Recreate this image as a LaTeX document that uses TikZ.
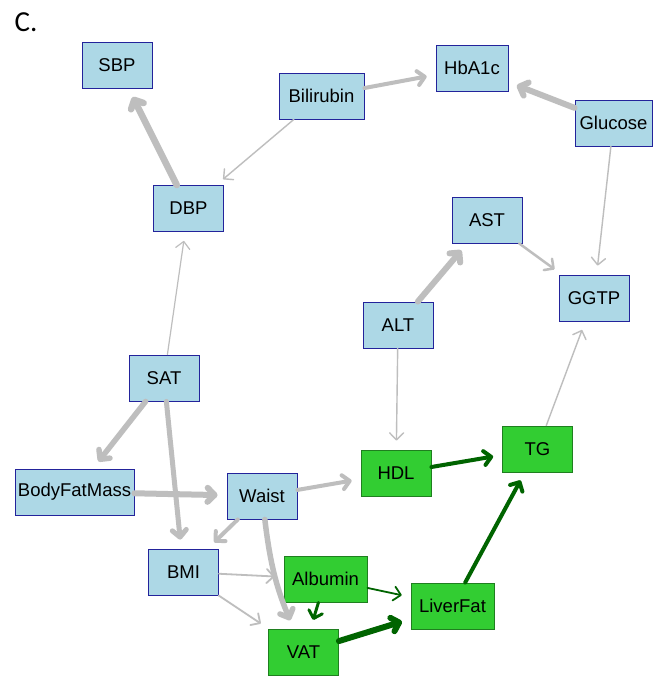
\documentclass[tikz,border=0pt]{standalone}
\usepackage{fontspec}
\setmainfont{Liberation Sans}
\newfontfamily\labelfont{Carlito}
\usetikzlibrary{arrows.meta}

\definecolor{boxfill}{HTML}{ADD8E6}
\definecolor{boxline}{HTML}{23239B}
\definecolor{gfill}{HTML}{32CD32}
\definecolor{gline}{HTML}{1F7F1F}
\definecolor{linkgray}{HTML}{BEBEBE}
\definecolor{linkgreen}{HTML}{006400}

\tikzset{
  box/.style={draw=boxline,fill=boxfill,line width=0.9pt,minimum height=46pt,
    minimum width=70pt,inner sep=0pt,font=\fontsize{18.5}{22}\selectfont},
  gbox/.style={box,draw=gline,fill=gfill},
  link/.style={draw=linkgray,line cap=round,shorten >=9pt,
    -{Straight Barb[length=7pt,width=14pt,round]}},
  glink/.style={link,draw=linkgreen}
}

\begin{document}
\begin{tikzpicture}[x=1pt,y=-1pt]
\useasboundingbox[fill=white] (0,0) rectangle (659,677);

\node[font=\labelfont\fontsize{29}{32}\selectfont] (panel) at (26,22) {C.};

% top
\node[box] (sbp) at (117,65.5) {SBP};
\node[box,minimum width=72pt] (hba) at (472,68) {HbA1c};
\node[box,minimum width=85pt] (bili) at (321.5,96) {Bilirubin};
\node[box,minimum width=77pt] (gluc) at (613.5,123) {Glucose};
\node[box] (dbp) at (188.5,208.5) {DBP};
\node[box] (ast) at (487,220) {AST};
\node[box] (ggtp) at (594,298) {GGTP};
\node[box] (alt) at (398,325) {ALT};

% bottom
\node[box] (sat) at (164,378) {SAT};
\node[box,minimum width=119pt] (bfm) at (74.5,492) {BodyFatMass};
\node[box] (waist) at (262,496) {Waist};
\node[box] (bmi) at (183.5,572) {BMI};
\node[gbox] (hdl) at (396,473) {HDL};
\node[gbox] (tg) at (537.5,449) {TG};
\node[gbox,minimum width=83pt] (alb) at (325.5,579) {Albumin};
\node[gbox,minimum width=83pt] (liver) at (452.5,606) {LiverFat};
\node[gbox] (vat) at (303.5,652) {VAT};

\draw[link,line width=6.5pt] (dbp) -- (sbp);
\draw[link,line width=4pt] (bili) -- (hba);
\draw[link,line width=1.4pt] (bili) -- (dbp);
\draw[link,line width=6pt] (gluc) -- (hba);
\draw[link,line width=1.4pt] (gluc) -- (ggtp);
\draw[link,line width=2.5pt] (ast) -- (ggtp);
\draw[link,line width=6pt] (alt) -- (ast);
\draw[link,line width=1.4pt] (alt) -- (hdl);
\draw[link,line width=1.2pt] (sat) -- (dbp);
\draw[link,line width=5.5pt] (sat) -- (bfm);
\draw[link,line width=5pt] (sat) -- (bmi);
\draw[link,line width=6pt] (bfm) -- (waist);
\draw[link,line width=4pt] (waist) -- (hdl);
\draw[link,line width=4pt] (waist) -- (bmi);
\draw[link,line width=5.5pt] (waist) to[bend right=8] (vat);
\draw[link,line width=1.8pt] (bmi) -- (alb);
\draw[link,line width=1.8pt] (bmi) -- (vat);
\draw[link,line width=1.4pt] (tg) -- (ggtp);
\draw[glink,line width=4pt] (hdl) -- (tg);
\draw[glink,line width=3pt] (alb) -- (vat);
\draw[glink,line width=1.8pt] (alb) -- (liver);
\draw[glink,line width=6pt] (vat) -- (liver);
\draw[glink,line width=4pt] (liver) -- (tg);
\end{tikzpicture}
\end{document}
